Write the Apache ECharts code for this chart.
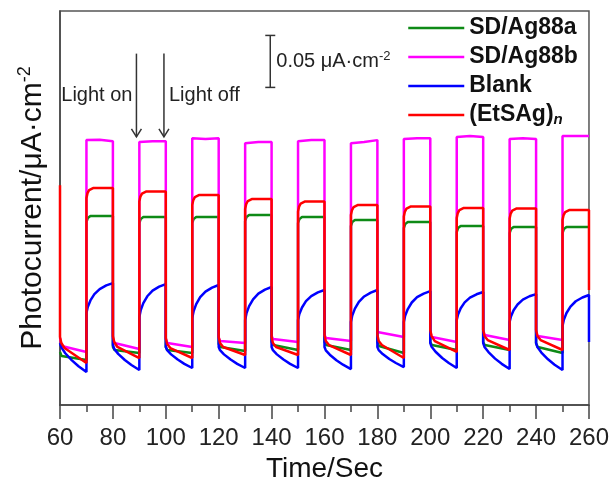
<!DOCTYPE html>
<html>
<head>
<meta charset="utf-8">
<script src="https://cdn.jsdelivr.net/npm/echarts@6/dist/echarts.min.js"></script>
<style>
  html, body { margin: 0; padding: 0; background: #fff; }
  #chart { width: 612px; height: 489px; }
</style>
</head>
<body>
<div id="chart"></div>
<script>
// dark period starts (light off), light period starts (light on)
const darkStart = [60, 80, 100, 120, 140, 160, 180, 200, 220, 240];
const lightStart = [70, 90, 110, 130, 150, 170, 190, 210, 230, 250];

// SD/Ag88a (green), uA/cm2, one row per cycle
const greenDarkT = [0, 0.6, 10];
const greenDark = [
  [0.0510, 0.0471, 0.0433],
  [0.0558, 0.0529, 0.0500],
  [0.0558, 0.0529, 0.0500],
  [0.0587, 0.0558, 0.0519],
  [0.0606, 0.0577, 0.0529],
  [0.0606, 0.0577, 0.0529],
  [0.0606, 0.0567, 0.0500],
  [0.0606, 0.0577, 0.0529],
  [0.0606, 0.0577, 0.0529],
  [0.0596, 0.0558, 0.0500]
];
const greenLightT = [0, 0.5, 1.5, 10];
const greenLight = [
  [0.1760, 0.1798, 0.1817, 0.1817],
  [0.1750, 0.1788, 0.1808, 0.1808],
  [0.1750, 0.1788, 0.1808, 0.1808],
  [0.1769, 0.1808, 0.1827, 0.1827],
  [0.1750, 0.1788, 0.1808, 0.1808],
  [0.1721, 0.1760, 0.1779, 0.1779],
  [0.1702, 0.1740, 0.1760, 0.1760],
  [0.1663, 0.1702, 0.1721, 0.1721],
  [0.1654, 0.1692, 0.1712, 0.1712],
  [0.1654, 0.1692, 0.1712, 0.1712]
];

// SD/Ag88b (magenta)
const magentaDarkT = [0, 0.6, 10];
const magentaDark = [
  [0.0644, 0.0567, 0.0510],
  [0.0644, 0.0596, 0.0538],
  [0.0635, 0.0596, 0.0558],
  [0.0644, 0.0615, 0.0596],
  [0.0663, 0.0635, 0.0606],
  [0.0673, 0.0644, 0.0615],
  [0.0702, 0.0683, 0.0654],
  [0.0692, 0.0654, 0.0606],
  [0.0721, 0.0673, 0.0625],
  [0.0702, 0.0663, 0.0625]
];
const magentaLightT = [0, 5, 10];
const magentaLight = [
  [0.2548, 0.2552, 0.2538],
  [0.2529, 0.2538, 0.2538],
  [0.2567, 0.2558, 0.2567],
  [0.2519, 0.2529, 0.2529],
  [0.2538, 0.2548, 0.2548],
  [0.2519, 0.2529, 0.2548],
  [0.2558, 0.2567, 0.2567],
  [0.2577, 0.2587, 0.2577],
  [0.2558, 0.2567, 0.2558],
  [0.2587, 0.2587, 0.2587]
];

// Blank (blue)
const blueDarkT = [0, 0.5, 2, 4.5, 7, 10];
const blueDark = [
  [0.0596, 0.0554, 0.0498, 0.0429, 0.0373, 0.0317],
  [0.0577, 0.0540, 0.0492, 0.0433, 0.0385, 0.0337],
  [0.0558, 0.0527, 0.0487, 0.0437, 0.0396, 0.0356],
  [0.0558, 0.0527, 0.0487, 0.0437, 0.0396, 0.0356],
  [0.0558, 0.0527, 0.0487, 0.0437, 0.0396, 0.0356],
  [0.0558, 0.0526, 0.0484, 0.0431, 0.0388, 0.0346],
  [0.0558, 0.0529, 0.0490, 0.0442, 0.0404, 0.0365],
  [0.0596, 0.0560, 0.0512, 0.0452, 0.0404, 0.0356],
  [0.0596, 0.0559, 0.0509, 0.0446, 0.0396, 0.0346],
  [0.0596, 0.0557, 0.0505, 0.0440, 0.0388, 0.0337]
];
const blueLightT = [0, 0.5, 1.5, 3, 5, 7.5, 10];
const blueLight = [
  [0.0885, 0.0942, 0.1006, 0.1066, 0.1115, 0.1150, 0.1173],
  [0.0846, 0.0910, 0.0980, 0.1046, 0.1100, 0.1138, 0.1163],
  [0.0837, 0.0900, 0.0970, 0.1037, 0.1090, 0.1129, 0.1154],
  [0.0817, 0.0881, 0.0951, 0.1017, 0.1071, 0.1110, 0.1135],
  [0.0817, 0.0875, 0.0938, 0.0999, 0.1048, 0.1083, 0.1106],
  [0.0798, 0.0860, 0.0927, 0.0992, 0.1044, 0.1081, 0.1106],
  [0.0798, 0.0858, 0.0923, 0.0986, 0.1037, 0.1072, 0.1096],
  [0.0817, 0.0871, 0.0931, 0.0987, 0.1033, 0.1065, 0.1087],
  [0.0798, 0.0852, 0.0912, 0.0967, 0.1013, 0.1046, 0.1067],
  [0.0760, 0.0819, 0.0885, 0.0947, 0.0998, 0.1034, 0.1058]
];
const blueEnd = 0.0606;

// (EtSAg)n (red)
const redStart = 0.2115;
const redDarkT = [0, 0.5, 1.7, 10];
const redDark = [
  [0.0654, 0.0596, 0.0548, 0.0404],
  [0.0663, 0.0606, 0.0558, 0.0452],
  [0.0644, 0.0587, 0.0548, 0.0452],
  [0.0654, 0.0596, 0.0558, 0.0481],
  [0.0654, 0.0596, 0.0558, 0.0481],
  [0.0673, 0.0615, 0.0577, 0.0481],
  [0.0673, 0.0615, 0.0577, 0.0452],
  [0.0721, 0.0663, 0.0615, 0.0510],
  [0.0721, 0.0663, 0.0625, 0.0529],
  [0.0721, 0.0663, 0.0625, 0.0529]
];
const redLightT = [0, 0.4, 1, 2.5, 10];
const redLight = [
  [0.1990, 0.2038, 0.2067, 0.2087, 0.2087],
  [0.1957, 0.2005, 0.2034, 0.2053, 0.2053],
  [0.1923, 0.1971, 0.2000, 0.2019, 0.2019],
  [0.1885, 0.1933, 0.1962, 0.1981, 0.1981],
  [0.1861, 0.1909, 0.1938, 0.1957, 0.1957],
  [0.1827, 0.1875, 0.1904, 0.1923, 0.1923],
  [0.1813, 0.1861, 0.1889, 0.1909, 0.1909],
  [0.1798, 0.1846, 0.1875, 0.1894, 0.1894],
  [0.1793, 0.1841, 0.1870, 0.1889, 0.1889],
  [0.1779, 0.1827, 0.1856, 0.1875, 0.1875]
];
const redEnd = 0.1106;

// scale bar (0.05 uA/cm2) and light on/off arrows
const scaleBarT = 139.5;
const scaleBar = [0.3055, 0.3555];
const arrowT = [88.9, 99.3];
const arrowTop = 0.338;
const arrowTip = 0.258;
const arrowText = ['Light on', 'Light off'];
const arrowTextV = 0.298;

const FONT = "'Liberation Sans', Arial, sans-serif";
const AXIS = '#444';

function makeCurve(darkT, dark, lightT, light) {
  let pts = [];
  for (let i = 0; i < darkStart.length; i++) {
    darkT.forEach((dt, j) => pts.push([darkStart[i] + dt, dark[i][j]]));
    lightT.forEach((dt, j) => pts.push([lightStart[i] + dt, light[i][j]]));
  }
  return pts;
}

let greenData = makeCurve(greenDarkT, greenDark, greenLightT, greenLight);
let magentaData = makeCurve(magentaDarkT, magentaDark, magentaLightT, magentaLight);
let blueData = makeCurve(blueDarkT, blueDark, blueLightT, blueLight);
blueData.push([260, blueEnd]);
let redData = [[60, redStart]].concat(makeCurve(redDarkT, redDark, redLightT, redLight));
redData.push([260, redEnd]);

function lineSeries(name, color, data) {
  return {
    name: name,
    type: 'line',
    data: data,
    showSymbol: false,
    symbol: 'none',
    clip: true,
    animation: false,
    lineStyle: { color: color, width: 2.5 },
    itemStyle: { color: color }
  };
}

let myChart = echarts.init(document.getElementById('chart'));
myChart.setOption({
  backgroundColor: '#fff',
  animation: false,
  grid: {
    left: 60, right: 21, top: 11, bottom: 84,
    show: true, borderColor: '#555', borderWidth: 1.5, backgroundColor: 'transparent'
  },
  legend: {
    orient: 'vertical',
    left: 407,
    top: 16,
    padding: 0,
    itemWidth: 56,
    itemHeight: 14,
    itemGap: 5,
    selectedMode: false,
    itemStyle: { opacity: 0 },
    lineStyle: { width: 2.5 },
    data: ['SD/Ag88a', 'SD/Ag88b', 'Blank', '(EtSAg)n'],
    formatter: function (name) {
      return name === '(EtSAg)n' ? '(EtSAg){sub|n}' : name;
    },
    textStyle: {
      fontFamily: FONT, fontSize: 23, fontWeight: 'bold', color: '#111', lineHeight: 24,
      rich: {
        sub: { fontFamily: FONT, fontSize: 15, fontWeight: 'bold', fontStyle: 'italic', color: '#111',
               verticalAlign: 'bottom', lineHeight: 10 }
      }
    }
  },
  xAxis: {
    type: 'value',
    min: 60, max: 260, interval: 20,
    name: 'Time/Sec',
    nameLocation: 'middle',
    nameGap: 46,
    nameTextStyle: { fontFamily: FONT, fontSize: 28, color: '#111' },
    axisLine: { show: true, onZero: false, lineStyle: { color: AXIS, width: 1.5 } },
    axisTick: { show: true, inside: false, length: 14, lineStyle: { color: AXIS, width: 1.5 } },
    minorTick: { show: true, splitNumber: 2, length: 7, lineStyle: { color: AXIS, width: 1.5 } },
    axisLabel: { fontFamily: FONT, fontSize: 24, color: '#222', margin: 21 },
    splitLine: { show: false }
  },
  yAxis: {
    type: 'value',
    min: 0, max: 0.379,
    name: '{a|Photocurrent/μA·cm}{s|-2}',
    nameLocation: 'middle',
    nameGap: 10,
    nameTextStyle: {
      fontFamily: FONT, color: '#111',
      rich: {
        a: { fontFamily: FONT, fontSize: 30, color: '#111', lineHeight: 34 },
        s: { fontFamily: FONT, fontSize: 18, color: '#111', lineHeight: 14, verticalAlign: 'top' }
      }
    },
    axisLine: { show: true, lineStyle: { color: AXIS, width: 1.5 } },
    axisTick: { show: false },
    axisLabel: { show: false },
    splitLine: { show: false }
  },
  series: [
    lineSeries('SD/Ag88a', '#0e8a16', greenData),
    lineSeries('SD/Ag88b', '#ff00ff', magentaData),
    lineSeries('Blank', '#0000ff', blueData),
    lineSeries('(EtSAg)n', '#ff0000', redData),
    {
      type: 'custom',
      silent: true,
      z: 5,
      data: [[scaleBarT, scaleBar[0], scaleBar[1]]],
      renderItem: function (params, api) {
        const bot = api.coord([api.value(0), api.value(1)]);
        const top = api.coord([api.value(0), api.value(2)]);
        const st = { stroke: '#333', lineWidth: 1.5 };
        return {
          type: 'group',
          children: [
            { type: 'line', shape: { x1: top[0], y1: top[1], x2: bot[0], y2: bot[1] }, style: st },
            { type: 'line', shape: { x1: top[0] - 5, y1: top[1], x2: top[0] + 5, y2: top[1] }, style: st },
            { type: 'line', shape: { x1: bot[0] - 5, y1: bot[1], x2: bot[0] + 5, y2: bot[1] }, style: st },
            {
              type: 'text', x: top[0] + 6, y: (top[1] + bot[1]) / 2,
              style: {
                text: '{a|0.05 μA·cm}{s|-2}',
                verticalAlign: 'middle',
                rich: {
                  a: { fontFamily: FONT, fontSize: 20, fill: '#222', lineHeight: 22 },
                  s: { fontFamily: FONT, fontSize: 13, fill: '#222', lineHeight: 12, verticalAlign: 'top' }
                }
              }
            }
          ]
        };
      }
    },
    {
      type: 'custom',
      silent: true,
      z: 5,
      data: arrowT.map(t => [t, arrowTop, arrowTip]),
      renderItem: function (params, api) {
        const top = api.coord([api.value(0), api.value(1)]);
        const tip = api.coord([api.value(0), api.value(2)]);
        const mid = api.coord([api.value(0), arrowTextV]);
        const st = { stroke: '#333', lineWidth: 1.5, fill: null };
        const left = params.dataIndex === 0;
        return {
          type: 'group',
          children: [
            { type: 'line', shape: { x1: top[0], y1: top[1], x2: tip[0], y2: tip[1] }, style: st },
            { type: 'polyline', shape: { points: [[tip[0] - 5, tip[1] - 8], [tip[0], tip[1]], [tip[0] + 5, tip[1] - 8]] }, style: st },
            {
              type: 'text', x: left ? tip[0] - 4 : tip[0] + 5, y: mid[1],
              style: {
                text: arrowText[params.dataIndex],
                fontFamily: FONT, fontSize: 20, fill: '#222',
                align: left ? 'right' : 'left', verticalAlign: 'middle'
              }
            }
          ]
        };
      }
    }
  ]
});
</script>
</body>
</html>
